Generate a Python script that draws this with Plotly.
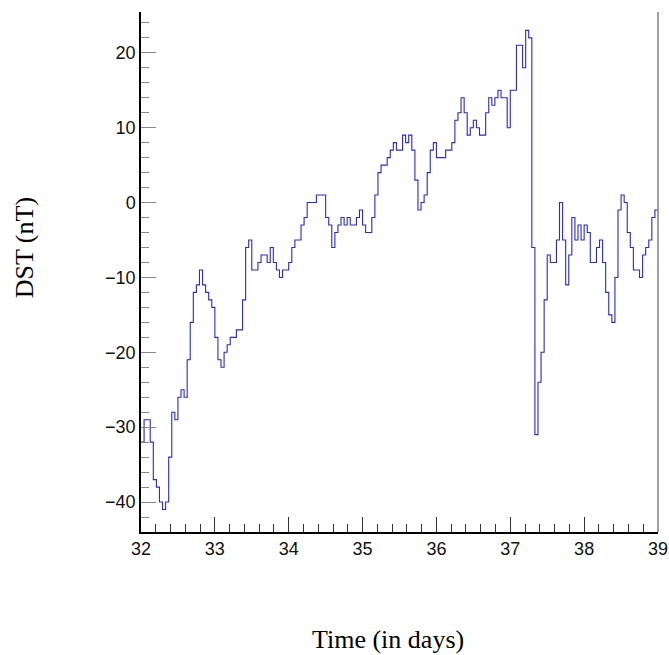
import plotly.graph_objects as go

# Hourly DST values (nT), starting at day 32.0, one value per hour
day_start = 32
hours_per_day = 24
dst = [
    -32, -29, -29, -32, -37, -38, -40, -41, -40, -34, -28, -29,
    -26, -25, -26, -21, -16, -12, -11, -9, -11, -12, -13, -14,
    -18, -21, -22, -20, -19, -18, -18, -17, -17, -13, -6, -5,
    -9, -9, -8, -7, -7, -8, -6, -8, -9, -10, -9, -9,
    -8, -6, -5, -5, -3, -2, 0, 0, 0, 1, 1, 1,
    -2, -3, -6, -4, -3, -2, -3, -2, -3, -3, -2, -1,
    -3, -4, -4, -2, 1, 4, 5, 5, 6, 7, 8, 7,
    7, 9, 8, 9, 7, 3, -1, 0, 1, 4, 7, 8,
    6, 6, 6, 7, 7, 8, 11, 12, 14, 12, 9, 10,
    11, 10, 9, 9, 12, 14, 13, 14, 15, 14, 14, 10,
    15, 15, 21, 21, 18, 23, 22, -6, -31, -24, -20, -13,
    -7, -8, -8, -5, 0, -5, -11, -7, -2, -5, -3, -5,
    -3, -4, -8, -8, -6, -5, -8, -12, -15, -16, -10, -1,
    1, 0, -4, -6, -9, -9, -10, -7, -6, -5, -2, -1,
]
x_tick_labels = ["32", "33", "34", "35", "36", "37", "38", "39"]
x_tick_vals = [32, 33, 34, 35, 36, 37, 38, 39]
y_tick_vals = [-40, -30, -20, -10, 0, 10, 20]

# bin edges (histogram style step)
time_days = [day_start + h / hours_per_day for h in range(len(dst) + 1)]
dst_steps = dst + [dst[-1]]

W, H = 669, 655
L, R, T, B = 141, 11, 12, 123
pw, ph = W - L - R, H - T - B

fig = go.Figure()
fig.add_trace(go.Scatter(
    x=time_days, y=dst_steps, mode="lines",
    line=dict(shape="hv", color="#2a2ac4", width=1.1),
    showlegend=False, hoverinfo="skip",
))

tickfont = dict(family="Liberation Sans, Arial, sans-serif", size=18, color="#111")
fig.update_layout(
    width=W, height=H,
    margin=dict(l=L, r=R, t=T, b=B, pad=0),
    paper_bgcolor="white", plot_bgcolor="white",
    xaxis=dict(
        range=[32, 39], tickvals=x_tick_vals, ticktext=x_tick_labels,
        ticks="inside", ticklen=15, tickwidth=1, tickcolor="#333",
        minor=dict(dtick=0.2, tick0=32, ticks="inside", ticklen=8, tickwidth=1, tickcolor="#333", showgrid=False),
        showline=True, linecolor="black", linewidth=1.5,
        showgrid=False, zeroline=False, tickfont=tickfont, automargin=False,
    ),
    yaxis=dict(
        range=[-44, 25.45], tickvals=y_tick_vals,
        ticks="inside", ticklen=15, tickwidth=1, tickcolor="#888",
        minor=dict(dtick=2, tick0=0, ticks="inside", ticklen=8, tickwidth=1, tickcolor="#888", showgrid=False),
        showline=True, linecolor="black", linewidth=1.5,
        showgrid=False, zeroline=False, tickfont=tickfont, automargin=False,
    ),
    shapes=[dict(type="line", xref="paper", yref="paper", x0=1, x1=1, y0=0, y1=1,
                 line=dict(color="#808080", width=1.5))],
    annotations=[
        dict(text="Time (in days)", xref="paper", yref="paper",
             x=(388.4 - L) / pw, y=(H - B - 639) / ph, xanchor="center", yanchor="middle",
             showarrow=False, font=dict(family="Liberation Serif, Times New Roman, serif", size=26, color="black")),
        dict(text="DST (nT)", xref="paper", yref="paper", textangle=-90,
             x=(24 - L) / pw, y=(H - B - 248.3) / ph, xanchor="center", yanchor="middle",
             showarrow=False, font=dict(family="Liberation Serif, Times New Roman, serif", size=26, color="black")),
    ],
)

fig.write_html(
    "out.html",
    config={"displayModeBar": False},
    post_script="document.body.style.margin='0';document.body.style.padding='0';document.body.style.overflow='hidden';",
)
